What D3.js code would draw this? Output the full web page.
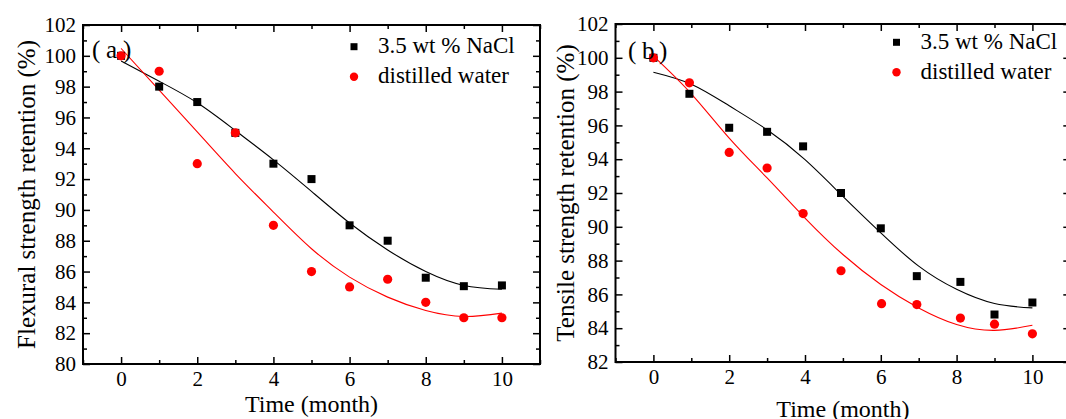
<!DOCTYPE html>
<html>
<head>
<meta charset="utf-8">
<script src="https://cdn.jsdelivr.net/npm/d3@7"></script>
<style>
  body { margin: 0; background: #fff; }
  svg { display: block; }
  text { font-family: "Liberation Serif", "Times New Roman", serif; fill: #000; }
</style>
</head>
<body>
<div id="chart"></div>
<script>
// measured values (months, retention %)
const months = [0, 1, 2, 3, 4, 5, 6, 7, 8, 9, 10];

// (a) flexural
const flexNaCl = [100, 98, 97, 95, 93, 92, 89, 88, 85.6, 85.05, 85.1];
const flexWater = [100, 99, 93, 95, 89, 86, 85, 85.5, 84, 83, 83];
const flexNaClFit = [99.66, 98.35, 96.95, 95.15, 93.25, 91.2, 89.15, 87.4, 86.0, 85.1, 84.85];
const flexWaterFit = [100.48, 97.77, 95.06, 92.36, 89.86, 87.48, 85.64, 84.34, 83.47, 83.08, 83.3];

// (b) tensile
const tensileMonths = [0, 0.95, 2, 3, 3.95, 4.95, 6, 6.95, 8.1, 9, 10];
const tensileNaCl = [100, 97.87, 95.86, 95.62, 94.76, 92.0, 89.91, 87.08, 86.74, 84.81, 85.52];
const tensileWaterMonths = [0, 0.95, 2, 3, 3.95, 4.95, 6.02, 6.95, 8.1, 9, 10];
const tensileWater = [100, 98.52, 94.4, 93.48, 90.78, 87.4, 85.45, 85.4, 84.6, 84.24, 83.67];
const tensileNaClFit = [99.15, 98.44, 97.16, 95.74, 93.97, 91.8, 89.64, 87.67, 86.3, 85.46, 85.2];
const tensileWaterFit = [100.1, 97.87, 95.25, 92.89, 90.52, 88.36, 86.59, 85.2, 84.22, 83.87, 84.17];

const xTicks = [0, 2, 4, 6, 8, 10];
const seriesNames = ['3.5 wt % NaCl', 'distilled water'];

const W = 1066;
const H = 419;

const svg = d3.select('#chart').append('svg')
  .attr('width', W)
  .attr('height', H);

const zip = (xs, ys) => xs.map((x, i) => [x, ys[i]]);

const drawPanel = (cfg) => {
  const x = d3.scaleLinear().domain([-1, 11]).range([cfg.left, cfg.right]);
  const y = d3.scaleLinear().domain(cfg.yDomain).range([cfg.bottom, cfg.top]);
  const yTicks = d3.range(cfg.yDomain[0], cfg.yDomain[1] + 1, 2);
  const yMinor = d3.range(cfg.yDomain[0] + 1, cfg.yDomain[1], 2);
  const xMinor = d3.range(-1, 12, 2);

  const g = svg.append('g');

  // minor ticks, all four sides
  const minor = (axis, tr) => g.append('g')
    .attr('transform', tr)
    .call(axis.tickSizeInner(-4).tickSizeOuter(0).tickFormat(''))
    .call((s) => s.select('.domain').remove())
    .call((s) => s.selectAll('line').attr('stroke-width', 1.5));
  minor(d3.axisBottom(x).tickValues(xMinor), `translate(0,${cfg.bottom})`);
  minor(d3.axisTop(x).tickValues(xMinor), `translate(0,${cfg.top})`);
  minor(d3.axisLeft(y).tickValues(yMinor), `translate(${cfg.left},0)`);
  minor(d3.axisRight(y).tickValues(yMinor), `translate(${cfg.right},0)`);

  // major ticks
  const major = (axis, tr, labels) => g.append('g')
    .attr('transform', tr)
    .call(axis.tickSizeInner(-7).tickSizeOuter(0).tickPadding(labels ? 7 : 0)
      .tickFormat(labels ? d3.format('d') : ''))
    .call((s) => s.select('.domain').remove())
    .call((s) => s.selectAll('line').attr('stroke-width', 1.5))
    .call((s) => s.selectAll('text')
      .attr('font-size', 21)
      .style('font-family', '"Liberation Serif", "Times New Roman", serif'));
  major(d3.axisBottom(x).tickValues(xTicks), `translate(0,${cfg.bottom})`, true);
  major(d3.axisTop(x).tickValues(xTicks), `translate(0,${cfg.top})`, false);
  major(d3.axisLeft(y).tickValues(yTicks), `translate(${cfg.left},0)`, true);
  major(d3.axisRight(y).tickValues(yTicks), `translate(${cfg.right},0)`, false);

  // frame
  g.append('rect')
    .attr('x', cfg.left)
    .attr('y', cfg.top)
    .attr('width', cfg.right - cfg.left)
    .attr('height', cfg.bottom - cfg.top)
    .attr('fill', 'none')
    .attr('stroke', '#000')
    .attr('stroke-width', 2);

  // fitted curves
  const line = d3.line()
    .x((d) => x(d[0]))
    .y((d) => y(d[1]))
    .curve(d3.curveNatural);
  g.append('path')
    .datum(zip(months, cfg.naclFit))
    .attr('d', line)
    .attr('fill', 'none')
    .attr('stroke', '#000')
    .attr('stroke-width', 1.1);
  g.append('path')
    .datum(zip(months, cfg.waterFit))
    .attr('d', line)
    .attr('fill', 'none')
    .attr('stroke', '#ff0000')
    .attr('stroke-width', 1.1);

  // points
  g.append('g').selectAll('rect')
    .data(zip(cfg.naclX, cfg.nacl))
    .enter()
    .append('rect')
    .attr('x', (d) => x(d[0]) - 4)
    .attr('y', (d) => y(d[1]) - 4)
    .attr('width', 8)
    .attr('height', 8)
    .attr('fill', '#000');
  g.append('g').selectAll('circle')
    .data(zip(cfg.waterX, cfg.water))
    .enter()
    .append('circle')
    .attr('cx', (d) => x(d[0]))
    .attr('cy', (d) => y(d[1]))
    .attr('r', 4.6)
    .attr('fill', '#ff0000');

  // axis titles
  g.append('text')
    .attr('x', x(5))
    .attr('y', cfg.xTitleY)
    .attr('text-anchor', 'middle')
    .attr('font-size', 24)
    .text('Time (month)');
  g.append('text')
    .attr('transform', `translate(${cfg.yTitleX},${(cfg.top + cfg.bottom) / 2}) rotate(-90)`)
    .attr('text-anchor', 'middle')
    .attr('font-size', 25)
    .text(cfg.yTitle);

  // panel tag, wide-spaced parens like the original
  const tag = g.append('text')
    .attr('y', cfg.tagY)
    .attr('font-size', 25);
  tag.selectAll('tspan')
    .data(['(', cfg.tag, ')'])
    .enter()
    .append('tspan')
    .attr('x', (d, i) => cfg.tagX + [0, 14, 31][i])
    .text((d) => d);

  // legend
  const lg = g.append('g').attr('transform', `translate(${cfg.legX},${cfg.legY})`);
  lg.append('rect')
    .attr('x', -3.5)
    .attr('y', -3.5)
    .attr('width', 7)
    .attr('height', 7)
    .attr('fill', '#000');
  lg.append('circle')
    .attr('cx', 0)
    .attr('cy', 30)
    .attr('r', 4.2)
    .attr('fill', '#ff0000');
  lg.selectAll('text')
    .data(seriesNames)
    .enter()
    .append('text')
    .attr('x', 24)
    .attr('y', (d, i) => 6.5 + i * 30)
    .attr('font-size', 23)
    .text((d) => d);
};

drawPanel({
  left: 83, right: 540, top: 25, bottom: 364,
  yDomain: [80, 102],
  nacl: flexNaCl, naclX: months,
  water: flexWater, waterX: months,
  naclFit: flexNaClFit, waterFit: flexWaterFit,
  yTitle: 'Flexural strength retention (%)', yTitleX: 35,
  xTitleY: 412,
  tag: 'a', tagX: 92, tagY: 58,
  legX: 354, legY: 46.7,
});

drawPanel({
  left: 615.5, right: 1070.3, top: 24, bottom: 362,
  yDomain: [82, 102],
  nacl: tensileNaCl, naclX: tensileMonths,
  water: tensileWater, waterX: tensileWaterMonths,
  naclFit: tensileNaClFit, waterFit: tensileWaterFit,
  yTitle: 'Tensile strength retention (%)', yTitleX: 574,
  xTitleY: 417,
  tag: 'b', tagX: 628, tagY: 59,
  legX: 896.5, legY: 42.3,
});
</script>
</body>
</html>
